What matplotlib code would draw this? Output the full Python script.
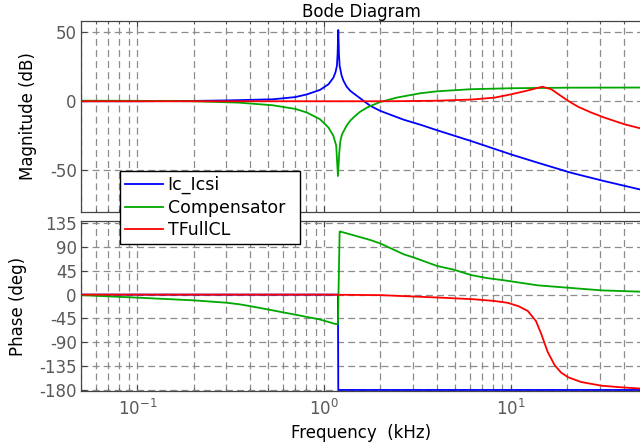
import matplotlib
matplotlib.use("Agg")
import matplotlib.pyplot as plt
from matplotlib.ticker import FixedLocator, LogLocator, NullFormatter

plt.rcParams['font.family'] = ['DejaVu Sans']
plt.rcParams['mathtext.fontset'] = 'dejavusans'
plt.rcParams['axes.unicode_minus'] = False
plt.rcParams['lines.scale_dashes'] = False

# magnitude (dB) vs frequency (kHz)
f_plant = [0.05, 0.1, 0.2, 0.3, 0.53, 0.7, 0.81, 0.95, 1.055, 1.12, 1.15, 1.17, 1.18, 1.19,
           1.20, 1.21, 1.24, 1.27, 1.32, 1.38, 1.5, 1.63, 1.77, 2.0, 2.66, 3.28, 4.03, 6.1,
           10, 13.9, 21, 31.6, 50]
mag_plant = [0, 0, 0.25, 0.6, 1.4, 3.0, 5, 8.2, 12.3, 17, 21, 25.6, 34, 51.5,
             34, 25.6, 18.5, 14.7, 10.5, 7.5, 3.8, 0.2, -3.4, -7, -13.3, -17, -21, -28.7,
             -38.4, -44.4, -51.7, -57.7, -64]

f_comp = [0.05, 0.1, 0.2, 0.35, 0.53, 0.7, 0.81, 0.95, 1.055, 1.12, 1.16, 1.185,
          1.205, 1.22, 1.245, 1.32, 1.38, 1.44, 1.56, 1.70, 1.77, 2.0, 2.46, 3.28, 4.03, 6.1,
          10, 20, 50]
mag_comp = [0.4, 0.3, 0, -1.0, -2.9, -5.5, -8.2, -13, -19, -25, -32, -54,
            -37, -29, -24, -17.5, -14, -11.5, -7.5, -4.5, -3.4, -0.5, 2.7, 5.8, 7.2, 8.7,
            9.4, 9.8, 9.9]

f_cl = [0.05, 0.5, 1.0, 2.0, 2.67, 4.03, 6.1, 8.14, 10, 12.3, 14.7, 16.4, 20.2, 22.8, 26.9,
        31.7, 40.6, 50]
mag_cl = [0, 0, 0, 0, 0.1, 0.4, 1.2, 2.6, 5.0, 7.8, 10.5, 8.7, 0.3, -3.9, -8.2,
          -11.9, -16.7, -19.8]

# phase (deg) vs frequency (kHz)
fp_plant = [0.05, 1.0, 1.185, 1.19, 50]
ph_plant = [0, 0, 0, -180, -180]

fp_comp = [0.05, 0.1, 0.2, 0.3, 0.354, 0.4, 0.5, 0.74, 0.95, 1.15, 1.185, 1.21, 1.22, 1.44,
           1.77, 2.0, 2.67, 3.02, 4.03, 4.95, 6.1, 7.5, 9.2, 13.9, 20.2, 30.5, 50]
ph_comp = [-1, -5.7, -10.8, -15.3, -18.4, -21.6, -28, -39.5, -47, -55.5, -55.5, 119, 119, 112,
           103, 96.5, 76, 70, 54, 47, 37, 31, 27, 17.5, 13, 8, 5.5]

fp_cl = [0.05, 1.0, 2.0, 4.2, 6.34, 8.14, 9.6, 11.0, 12.3, 13.6, 14.5, 15.7, 17.1, 18.5, 20.2,
         23.7, 30.5, 38.9, 50]
ph_cl = [0, 0, -1, -5.7, -8.8, -12, -15.5, -22, -31, -50, -74, -108, -133, -147, -156,
         -165, -172, -175, -177.5]

names = ['Ic_Icsi', 'Compensator', 'TFullCL']
colors = ['#0000ff', '#00a800', '#ff0000']

spine_col = '#444444'
tick_col = '#595959'
grid_kw = dict(color='#8c8c8c', linestyle=(0, (5, 3)), linewidth=0.9)
fs = 12

fig = plt.figure(figsize=(6.4, 4.48), dpi=100)
ax1 = fig.add_axes([0.1266, 0.5268, 0.876, 0.4264])
ax2 = fig.add_axes([0.1266, 0.1272, 0.876, 0.3795])

ax1.plot(f_plant, mag_plant, color=colors[0], lw=1.3, label=names[0])
ax1.plot(f_comp, mag_comp, color=colors[1], lw=1.3, label=names[1])
ax1.plot(f_cl, mag_cl, color=colors[2], lw=1.3, label=names[2])

ax2.plot(fp_plant, ph_plant, color=colors[0], lw=1.3)
ax2.plot(fp_comp, ph_comp, color=colors[1], lw=1.3)
ax2.plot(fp_cl, ph_cl, color=colors[2], lw=1.3)

for ax in (ax1, ax2):
    ax.set_xscale('log')
    ax.set_xlim(0.05, 50)
    ax.xaxis.set_major_locator(LogLocator(base=10))
    ax.xaxis.set_minor_locator(LogLocator(base=10, subs=range(2, 10)))
    ax.xaxis.set_minor_formatter(NullFormatter())
    ax.grid(True, which='both', axis='x', **grid_kw)
    ax.grid(True, which='major', axis='y', **grid_kw)
    ax.tick_params(which='both', direction='in', top=True, right=False,
                   colors=spine_col, labelcolor=tick_col, labelsize=fs, pad=3)
    ax.tick_params(which='major', length=4)
    ax.tick_params(which='minor', length=2.5)
    for s in ax.spines.values():
        s.set_color(spine_col)
        s.set_linewidth(0.9)
    ax.spines['right'].set_visible(False)

ax1.set_ylim(-80, 58)
ax1.yaxis.set_major_locator(FixedLocator([-50, 0, 50]))
ax1.tick_params(labelbottom=False)
ax1.set_ylabel('Magnitude (dB)', fontsize=fs)
ax1.yaxis.set_label_coords(-0.0785, 0.5)
ax1.set_title('Bode Diagram', fontsize=fs, pad=2)

ax2.set_ylim(-182, 139)
ax2.yaxis.set_major_locator(FixedLocator([-180, -135, -90, -45, 0, 45, 90, 135]))
ax2.tick_params(axis='x', pad=6)
ax2.set_ylabel('Phase (deg)', fontsize=fs)
ax2.yaxis.set_label_coords(-0.096, 0.5)
ax2.set_xlabel('Frequency  (kHz)', fontsize=fs, labelpad=3)

leg = fig.legend(loc='lower left', bbox_to_anchor=(0.1875, 0.455, 0.281, 0.161),
                 mode='expand', fontsize=12.5, fancybox=False, framealpha=1,
                 edgecolor='black', handlelength=2.2, handletextpad=0.25,
                 labelspacing=0.25, borderpad=0.3, borderaxespad=0)
leg.get_frame().set_linewidth(1.0)

fig.savefig('out.png', dpi=100)
